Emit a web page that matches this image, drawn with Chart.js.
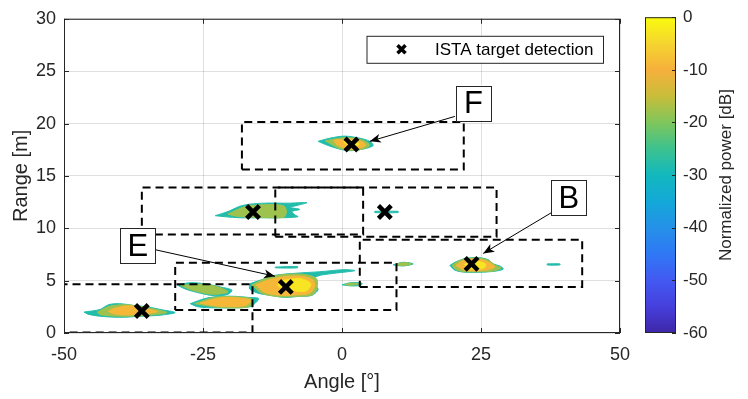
<!DOCTYPE html>
<html>
<head>
<meta charset="utf-8">
<title>ISTA range-angle map</title>
<script src="https://cdn.jsdelivr.net/npm/chart.js@4.4.1/dist/chart.umd.min.js"></script>
<style>
  html, body { margin: 0; padding: 0; background: #ffffff; }
  #wrap { position: relative; width: 748px; height: 399px; }
  #wrap canvas { position: absolute; top: 0; }
  #mapChart { left: 0; }
  #barChart { left: 620px; }
</style>
</head>
<body>
<div id="wrap">
  <canvas id="mapChart" width="748" height="399"></canvas>
  <canvas id="barChart" width="128" height="399"></canvas>
</div>
<script>
// ISTA detections [deg] / [m]
const targetAngle = [1.7, -16.0, 7.7, 23.3, -10.1, -36.0];
const targetRange = [18.0, 11.55, 11.55, 6.6, 4.4, 2.1];

// dashed windows: angle from, angle to, range from, range to
const windows = [
  [-18, 21.9, 15.6, 20.15],
  [-36, 3.8, 9.4, 13.9],
  [-12, 27.8, 9.2, 13.9],
  [3.2, 43.2, 4.4, 8.9],
  [-30, 9.8, 2.2, 6.7],
  [-56, -16.1, 0.05, 4.65]
];

// power contours (angle, range), one list per level in dB
const contourLevels = [-32, -22, -13, -7];
const contour32 = [
  [[-4.3,18.3],[-2.2,18.6],[0.5,18.8],[3.2,18.6],[5.0,18.3],[5.6,17.9],[4.1,17.6],[1.4,17.4],[-0.7,17.6],[-2.5,17.9]],
  [[-22.8,11.2],[-20.5,11.6],[-18.4,12.1],[-16.6,12.3],[-13.9,12.4],[-9.4,12.4],[-6.3,12.45],[-8.3,12.15],[-9.4,12.0],[-7.6,11.8],[-9.0,11.6],[-8.5,11.3],[-7.9,11.1],[-11.2,11.0],[-14.8,11.0],[-18.4,11.0],[-21.0,11.1]],
  [[-16.6,4.7],[-14.4,5.1],[-12.1,5.5],[-8.5,5.7],[-4.0,5.85],[0.5,6.05],[2.3,5.95],[-2.2,5.65],[-4.3,5.45],[-5.8,5.0],[-4.3,4.2],[-5.4,3.6],[-7.6,3.5],[-10.3,3.4],[-13.0,3.6],[-15.1,3.8],[-16.6,4.2]],
  [[-27.3,2.8],[-24.6,3.3],[-21.9,3.5],[-19.2,3.5],[-16.9,3.4],[-15.0,3.3],[-15.7,2.8],[-16.6,2.5],[-19.2,2.4],[-22.8,2.4],[-25.9,2.5]],
  [[-29.7,4.6],[-27.3,4.8],[-24.6,4.7],[-21.9,4.4],[-19.8,4.1],[-20.5,3.7],[-22.8,3.55],[-25.5,3.8],[-28.2,4.2]],
  [[-46.4,2.0],[-43.5,2.25],[-42,2.7],[-40,2.8],[-37,2.6],[-35,2.5],[-32.7,2.25],[-30,1.95],[-32.7,1.7],[-36,1.6],[-40,1.5],[-43.5,1.6],[-45.7,1.8]],
  [[19.4,6.45],[20.5,6.8],[22.1,7.1],[24.5,7.2],[26.3,7.0],[27.2,6.6],[28.4,6.4],[29.0,6.1],[27.5,5.9],[24.8,5.8],[22.1,5.8],[20.3,6.0]],
  [[0,4.6],[1.5,4.8],[3.6,4.75],[3.4,4.55],[1.5,4.5]],
  [[9.2,6.5],[11,6.75],[12.8,6.6],[11,6.4]],
  [[-12,6.3],[-8,6.35],[-8,6.22],[-12,6.22]],
  [[36.9,6.6],[39.2,6.6],[39.2,6.5],[36.9,6.5]],
  [[5.9,11.62],[10.1,11.62],[10.1,11.5],[5.9,11.5]]
];
const contour22 = [
  [[-3,18.35],[0.5,18.65],[3.5,18.45],[5.0,17.95],[3.6,17.55],[1.4,17.45],[-0.6,17.65]],
  [[-20.5,11.35],[-17.5,12.05],[-14,12.25],[-10.5,12.15],[-10,11.6],[-10.5,11.05],[-15,11.05],[-19,11.15]],
  [[-16.2,4.6],[-14,5.15],[-11,5.55],[-7,5.6],[-4.6,5.2],[-4.5,4.3],[-5.3,3.65],[-8,3.5],[-11,3.45],[-14.5,3.8]],
  [[-26.5,2.8],[-23,3.4],[-19,3.45],[-16,3.2],[-16.8,2.5],[-22,2.45]],
  [[-29,4.55],[-25,4.65],[-22,4.35],[-20.5,3.9],[-23.5,3.7],[-27,4.1]],
  [[-44,2.0],[-41.8,2.55],[-39,2.7],[-36,2.5],[-33,2.2],[-31.5,1.95],[-35,1.68],[-40,1.6],[-43.5,1.75]],
  [[19.8,6.45],[21,6.9],[22.5,7.1],[24.5,7.15],[26.3,6.95],[27.5,6.5],[28.6,6.2],[27,5.9],[24.8,5.85],[22.1,5.85],[20.5,6.05]],
  [[0.5,4.62],[1.5,4.74],[3.2,4.7],[1.5,4.55]],
  [[9.6,6.52],[11,6.72],[12.5,6.6],[11,6.43]]
];
const contour13 = [
  [[-1.5,18.4],[1.5,18.55],[3.7,18.25],[4.2,17.9],[2.5,17.55],[0.5,17.65],[-1,18.0]],
  [[-15.5,4.6],[-13,5.1],[-10,5.4],[-7,5.4],[-5.2,5.05],[-4.9,4.5],[-5.8,3.8],[-8,3.65],[-11,3.6],[-14,3.9]],
  [[-25.5,2.85],[-22,3.35],[-18.5,3.35],[-16.4,3.1],[-17.5,2.6],[-22,2.55]],
  [[-41,2.35],[-38.5,2.6],[-35.5,2.35],[-33.2,2.05],[-36.3,1.78],[-40,1.75],[-42,2.05]],
  [[20.5,6.45],[22,6.95],[24.5,7.05],[26.2,6.8],[27.5,6.3],[25,5.95],[22,6.0]]
];
const contour7 = [
  [[-11,5.0],[-7.5,5.2],[-5.6,4.7],[-6.5,4.0],[-9.5,4.1],[-11.5,4.5]],
  [[22,6.55],[24,6.85],[25.8,6.6],[25.5,6.2],[23,6.15]],
  [[0.3,18.25],[2.3,18.35],[3.1,18.0],[1.5,17.8]]
];

// callouts: letter, box centre, arrow start, arrow tip (data units)
const calloutText = ['F', 'B', 'E'];
const calloutAt = [[23.65, 21.96], [40.8, 12.93], [-36.7, 8.34]];
const calloutFrom = [[20.3, 20.68], [37.7, 11.5], [-33.5, 7.94]];
const calloutTo = [[5.0, 18.3], [25.4, 7.6], [-12.05, 5.42]];

// colour bar
const cbStops = [-60, -55, -50, -45, -40, -35, -30, -25, -20, -15, -10, -5, 0];
const cbColors = ['#3e26a8', '#463fdc', '#4359f2', '#2f78f5', '#2591e8', '#13a8d8', '#12b8be',
                  '#3dc28f', '#7fc65c', '#c9bd3a', '#f6b03c', '#f5d52f', '#f9fb0e'];

const FONT = '"Liberation Sans", Arial, Helvetica, sans-serif';
const INK = '#262626';

function hexToRgb(h) {
  return [1, 3, 5].map(i => parseInt(h.substr(i, 2), 16));
}

function cmap(v) {
  if (v <= cbStops[0]) return cbColors[0];
  for (let i = 1; i < cbStops.length; i++) {
    if (v <= cbStops[i]) {
      const t = (v - cbStops[i - 1]) / (cbStops[i] - cbStops[i - 1]);
      const a = hexToRgb(cbColors[i - 1]), b = hexToRgb(cbColors[i]);
      return 'rgb(' + a.map((c, k) => Math.round(c + (b[k] - c) * t)).join(',') + ')';
    }
  }
  return cbColors[cbColors.length - 1];
}

// datasets
const datasets = [];
datasets.push({
  label: 'ISTA target detection',
  data: targetAngle.map((a, i) => ({ x: a, y: targetRange[i] })),
  pointStyle: 'crossRot',
  pointRadius: 9,
  pointBorderWidth: 4.5,
  pointBorderColor: '#000',
  borderColor: '#000',
  order: 0
});
windows.forEach(w => {
  datasets.push({
    data: [{ x: w[0], y: w[2] }, { x: w[1], y: w[2] }, { x: w[1], y: w[3] }, { x: w[0], y: w[3] }, { x: w[0], y: w[2] }],
    showLine: true,
    borderColor: '#000',
    borderWidth: 2,
    borderDash: [8, 5],
    pointRadius: 0,
    fill: false,
    order: 1
  });
});
[contour32, contour22, contour13, contour7].forEach((polys, k) => {
  const col = cmap(contourLevels[k] + 4);
  polys.forEach(p => {
    datasets.push({
      data: p.concat([p[0]]).map(([x, y]) => ({ x, y })),
      showLine: true,
      fill: 'shape',
      backgroundColor: col,
      borderColor: col,
      borderWidth: 1,
      pointRadius: 0,
      tension: 0.3,
      order: 10 - k
    });
  });
});

// axes box with inward ticks, legend and callouts
const mapDecor = {
  id: 'mapDecor',
  afterDraw(chart) {
    const { ctx, chartArea: a, scales: { x, y } } = chart;
    ctx.save();
    ctx.strokeStyle = INK;
    ctx.lineWidth = 1;
    ctx.strokeRect(a.left + 0.5, a.top + 0.5, a.right - a.left - 1, a.bottom - a.top - 1);
    ctx.beginPath();
    x.ticks.forEach(t => {
      const px = Math.round(x.getPixelForValue(t.value)) + 0.5;
      ctx.moveTo(px, a.bottom); ctx.lineTo(px, a.bottom - 5);
      ctx.moveTo(px, a.top); ctx.lineTo(px, a.top + 5);
    });
    y.ticks.forEach(t => {
      const py = Math.round(y.getPixelForValue(t.value)) + 0.5;
      ctx.moveTo(a.left, py); ctx.lineTo(a.left + 5, py);
      ctx.moveTo(a.right, py); ctx.lineTo(a.right - 5, py);
    });
    ctx.stroke();

    // legend
    const lw = 236.5, lh = 27;
    const lx = a.right - 17 - lw, ly = a.top + 17;
    ctx.fillStyle = '#fff';
    ctx.fillRect(lx, ly, lw, lh);
    ctx.strokeRect(lx + 0.5, ly + 0.5, lw, lh);
    ctx.beginPath();
    ctx.lineWidth = 3.5;
    ctx.strokeStyle = '#000';
    const mx = lx + 35, my = ly + lh / 2;
    ctx.moveTo(mx - 4, my - 4); ctx.lineTo(mx + 4, my + 4);
    ctx.moveTo(mx + 4, my - 4); ctx.lineTo(mx - 4, my + 4);
    ctx.stroke();
    ctx.fillStyle = '#000';
    ctx.font = '17px ' + FONT;
    ctx.textAlign = 'left';
    ctx.textBaseline = 'middle';
    ctx.fillText('ISTA target detection', lx + 68.5, my + 1);

    // callouts
    calloutText.forEach((txt, i) => {
      const sx = x.getPixelForValue(calloutFrom[i][0]), sy = y.getPixelForValue(calloutFrom[i][1]);
      const tx = x.getPixelForValue(calloutTo[i][0]), ty = y.getPixelForValue(calloutTo[i][1]);
      ctx.strokeStyle = '#000';
      ctx.lineWidth = 1;
      ctx.beginPath();
      ctx.moveTo(sx, sy); ctx.lineTo(tx, ty);
      ctx.stroke();
      const ang = Math.atan2(ty - sy, tx - sx);
      ctx.save();
      ctx.translate(tx, ty);
      ctx.rotate(ang);
      ctx.beginPath();
      ctx.moveTo(0, 0);
      ctx.lineTo(-11, -4.5);
      ctx.lineTo(-8, 0);
      ctx.lineTo(-11, 4.5);
      ctx.closePath();
      ctx.fillStyle = '#000';
      ctx.fill();
      ctx.restore();

      const cx = x.getPixelForValue(calloutAt[i][0]), cy = y.getPixelForValue(calloutAt[i][1]);
      const s = 35;
      ctx.fillStyle = '#fff';
      ctx.fillRect(cx - s / 2, cy - s / 2, s, s);
      ctx.strokeStyle = INK;
      ctx.strokeRect(Math.round(cx - s / 2) + 0.5, Math.round(cy - s / 2) + 0.5, s, s);
      ctx.fillStyle = '#000';
      ctx.font = '31px ' + FONT;
      ctx.textAlign = 'center';
      ctx.textBaseline = 'middle';
      ctx.fillText(txt, cx, cy + 1.5);
    });
    ctx.restore();
  }
};

new Chart(document.getElementById('mapChart'), {
  type: 'scatter',
  data: { datasets },
  options: {
    responsive: false,
    animation: false,
    devicePixelRatio: 1,
    events: [],
    layout: { padding: { left: 0, right: 128, top: 12, bottom: 0 } },
    plugins: { legend: { display: false }, tooltip: { enabled: false } },
    scales: {
      x: {
        type: 'linear', min: -50, max: 50,
        ticks: { stepSize: 25, padding: 11, color: INK, font: { family: FONT, size: 18 }, maxRotation: 0 },
        grid: { color: 'rgba(38,38,38,0.15)', drawTicks: false },
        border: { display: false },
        title: { display: true, text: 'Angle [°]', color: INK, font: { family: FONT, size: 20 }, padding: { top: 0, bottom: 5 } },
        afterFit: s => { s.height = 66; }
      },
      y: {
        type: 'linear', min: 0, max: 30,
        ticks: { stepSize: 5, padding: 8, color: INK, font: { family: FONT, size: 18 } },
        grid: { color: 'rgba(38,38,38,0.15)', drawTicks: false },
        border: { display: false },
        title: { display: true, text: 'Range [m]', color: INK, font: { family: FONT, size: 20 }, padding: { top: 9, bottom: 0 } },
        afterFit: s => { s.width = 64; }
      }
    }
  },
  plugins: [mapDecor]
});

// colour bar
const barDecor = {
  id: 'barDecor',
  afterDraw(chart) {
    const { ctx, chartArea: a, scales: { y } } = chart;
    ctx.save();
    ctx.strokeStyle = INK;
    ctx.lineWidth = 1;
    ctx.strokeRect(a.left + 0.5, a.top + 0.5, a.right - a.left - 1, a.bottom - a.top - 1);
    ctx.beginPath();
    y.ticks.forEach(t => {
      const py = Math.round(y.getPixelForValue(t.value)) + 0.5;
      ctx.moveTo(a.right, py); ctx.lineTo(a.right - 4, py);
    });
    ctx.stroke();
    ctx.fillStyle = INK;
    ctx.font = '17px ' + FONT;
    ctx.textAlign = 'center';
    ctx.textBaseline = 'middle';
    ctx.translate(106.5, (a.top + a.bottom) / 2);
    ctx.rotate(-Math.PI / 2);
    ctx.fillText('Normalized power [dB]', 0, 0);
    ctx.restore();
  }
};

new Chart(document.getElementById('barChart'), {
  type: 'bar',
  data: {
    labels: [''],
    datasets: [{
      data: [[-60, 0]],
      backgroundColor: c => {
        const ys = c.chart.scales.y;
        if (!ys) return cbColors[6];
        const y0 = ys.getPixelForValue(-60), y1 = ys.getPixelForValue(0);
        if (!isFinite(y0) || !isFinite(y1)) return cbColors[6];
        const g = c.chart.ctx.createLinearGradient(0, y0, 0, y1);
        cbStops.forEach((v, i) => g.addColorStop((v + 60) / 60, cbColors[i]));
        return g;
      },
      borderWidth: 0,
      barPercentage: 1,
      categoryPercentage: 1
    }]
  },
  options: {
    responsive: false,
    animation: false,
    devicePixelRatio: 1,
    events: [],
    layout: { padding: { left: 25, right: 0, top: 12, bottom: 66 } },
    plugins: { legend: { display: false }, tooltip: { enabled: false } },
    scales: {
      x: { display: false },
      y: {
        position: 'right', min: -60, max: 0,
        ticks: { stepSize: 10, padding: 7, color: INK, font: { family: FONT, size: 17 } },
        grid: { display: false, drawTicks: false },
        border: { display: false },
        afterFit: s => { s.width = 72; }
      }
    }
  },
  plugins: [barDecor]
});
</script>
</body>
</html>
